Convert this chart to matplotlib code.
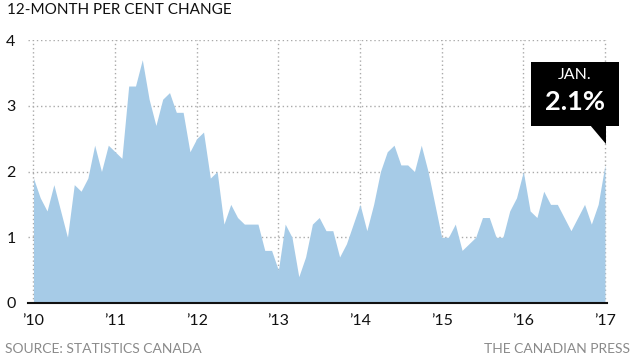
import matplotlib
matplotlib.use("Agg")
import matplotlib.pyplot as plt
from matplotlib.patches import Rectangle, Polygon

plt.rcParams['font.family'] = ['Lato', 'DejaVu Sans']

# 12-month CPI change, Jan 2010 .. Jan 2017
cpi = [1.9, 1.6, 1.4, 1.8, 1.4, 1.0, 1.8, 1.7, 1.9, 2.4, 2.0, 2.4,
       2.3, 2.2, 3.3, 3.3, 3.7, 3.1, 2.7, 3.1, 3.2, 2.9, 2.9, 2.3,
       2.5, 2.6, 1.9, 2.0, 1.2, 1.5, 1.3, 1.2, 1.2, 1.2, 0.8, 0.8,
       0.5, 1.2, 1.0, 0.4, 0.7, 1.2, 1.3, 1.1, 1.1, 0.7, 0.9, 1.2,
       1.5, 1.1, 1.5, 2.0, 2.3, 2.4, 2.1, 2.1, 2.0, 2.4, 2.0, 1.5,
       1.0, 1.0, 1.2, 0.8, 0.9, 1.0, 1.3, 1.3, 1.0, 1.0, 1.4, 1.6,
       2.0, 1.4, 1.3, 1.7, 1.5, 1.5, 1.3, 1.1, 1.3, 1.5, 1.2, 1.5,
       2.1]
months = list(range(len(cpi)))
year_labels = ["\u201910", "\u201911", "\u201912", "\u201913",
               "\u201914", "\u201915", "\u201916", "\u201917"]
y_ticks = [0, 1, 2, 3, 4]

fig = plt.figure(figsize=(6.35, 3.57), dpi=100)
ax = fig.add_axes([28 / 635, 54 / 357, 579 / 635, 263 / 357])

ax.fill_between(months, cpi, 0, color='#a6cbe7', linewidth=0, zorder=2)
ax.set_xlim(-0.8, 84.3)
ax.set_ylim(0, 4)

ax.set_xticks([12 * i for i in range(len(year_labels))])
ax.set_xticklabels(year_labels, fontsize=11.5)
ax.set_yticks(y_ticks)
ax.set_yticklabels([str(v) for v in y_ticks], fontsize=11.5)
ax.tick_params(length=0, pad=8, colors='#111111')
ax.tick_params(axis='y', pad=9)

ax.grid(True, color='#aaaaaa', linestyle=(0, (1, 2)), linewidth=1.0, zorder=1)
for s in ['top', 'right', 'left']:
    ax.spines[s].set_visible(False)
ax.spines['bottom'].set_color('#111111')
ax.spines['bottom'].set_linewidth(1.5)
ax.spines['bottom'].set_zorder(3)

# callout for latest value
last_x, last_y = months[-1], cpi[-1]
box = Rectangle((last_x - 10.8, last_y + 0.59), 12.8, 0.98,
                facecolor='black', edgecolor='none', clip_on=False, zorder=5)
ax.add_patch(box)
tail = Polygon([(last_x - 2.2, last_y + 0.6), (last_x + 0.2, last_y + 0.6),
                (last_x + 0.2, last_y + 0.32)],
               closed=True, facecolor='black', edgecolor='none',
               clip_on=False, zorder=5)
ax.add_patch(tail)
ax.text(last_x - 4.4, last_y + 1.37, "JAN.", color='white', fontsize=11.5,
        ha='center', va='center', zorder=6)
ax.text(last_x - 4.4, last_y + 0.95, "2.1%", color='white', fontsize=19.5,
        fontweight='bold', ha='center', va='center', zorder=6)

fig.text(7 / 635, 1 - 3 / 357, "12-MONTH PER CENT CHANGE", fontsize=11,
         ha='left', va='top', color='#111111')
fig.text(5 / 635, 2 / 357, "SOURCE: STATISTICS CANADA", fontsize=10,
         ha='left', va='bottom', color='#8a8a8a')
fig.text(630 / 635, 2 / 357, "THE CANADIAN PRESS", fontsize=10,
         ha='right', va='bottom', color='#8a8a8a')

fig.savefig("out.png", dpi=100)
